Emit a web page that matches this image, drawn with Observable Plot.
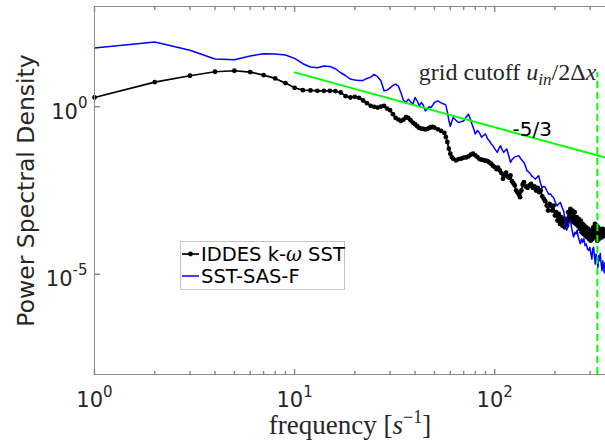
<!DOCTYPE html>
<html><head><meta charset="utf-8">
<script src="https://cdn.jsdelivr.net/npm/d3@7"></script>
<script src="https://cdn.jsdelivr.net/npm/@observablehq/plot@0.6"></script>
<style>body{margin:0;background:#fff;}</style>
</head><body><div id="chart"></div>
<script>
// ---- data (frequency in 1/s, log10 of PSD) ----
const iddesFreq = [1,2,3,4,5,6,7,8,9,10,11,12,13,14,15,16,17,18,19,20,21,22,23,24,25,26,27,28,29,30,31,32,33,34,35,36,37,38,39,40,41,42,43,44,45,46,47,48,49,50,52,54,56,57,58,59,60,61,62,64,66,68,70,72,74,76,78,80,82,84,86,88,90,92,94,96,98,100,102,104,106,108,110,112,114,116,118,120,122,124,126,128,130,132,134,136,138,140,143,146,149,152,155,158,161,164,167,170,173,176,179,182,185,188,191,194,197,200,203,206,209,212,215,218,221,224,227,230,233,236,239,242,245,248,251,254,257,260,263,266,269,272,275,278,281,284,287,290,293,296,299,302,305,308,311,314,317,320,323,326,329,332,335,338,341,344,347,350,353,356,358];
const iddesLog10PSD = [0.28,0.74,0.93,1.05,1.08,1.04,0.95,0.85,0.71,0.57,0.50,0.49,0.48,0.48,0.48,0.47,0.43,0.32,0.28,0.30,0.27,0.19,0.11,0.03,0.00,-0.02,0.01,0.03,-0.05,-0.10,-0.22,-0.33,-0.38,-0.42,-0.38,-0.31,-0.33,-0.40,-0.47,-0.52,-0.58,-0.63,-0.65,-0.66,-0.67,-0.66,-0.63,-0.61,-0.60,-0.62,-0.67,-0.72,-0.78,-0.90,-1.05,-1.25,-1.40,-1.50,-1.55,-1.60,-1.56,-1.55,-1.52,-1.51,-1.48,-1.43,-1.40,-1.45,-1.50,-1.56,-1.58,-1.59,-1.61,-1.62,-1.66,-1.70,-1.76,-1.80,-1.86,-1.82,-1.90,-1.98,-2.15,-2.05,-1.97,-2.08,-2.12,-2.05,-2.22,-2.28,-2.35,-2.50,-2.55,-2.62,-2.70,-2.50,-2.32,-2.25,-2.38,-2.42,-2.35,-2.30,-2.42,-2.38,-2.50,-2.42,-2.55,-2.50,-2.68,-2.75,-2.82,-2.95,-3.10,-2.90,-2.95,-3.10,-2.95,-3.25,-3.15,-3.40,-3.20,-3.50,-3.30,-3.55,-3.35,-3.60,-3.35,-3.55,-3.15,-3.40,-3.05,-3.40,-3.10,-3.45,-3.15,-3.50,-3.30,-3.55,-3.35,-3.65,-3.40,-3.75,-3.50,-3.80,-3.55,-3.85,-3.60,-3.90,-3.65,-3.95,-3.70,-4.00,-3.70,-3.95,-3.60,-3.85,-3.50,-3.90,-3.55,-4.00,-3.60,-3.95,-3.65,-3.90,-3.70,-3.90,-3.65,-3.85,-3.70,-3.85,-3.75];

const sasFreq = [1,2,3,4,5,6,7,8,9,10,11,12,13,14,15,16,17,18,19,20,21,22,23,24,25,26,27,28,29,30,31,32,33,34,35,36,37,38,39,40,41,42,43,44,45,46,47,48,49,50,52,54,56,57,58,59,60,62,64,66,68,70,72,74,76,77,79,80,82,84,86,88,90,92,94,96,98,100,103,105,107,109,111,113,115,118,120,122,125,128,132,135,138,140,143,145,148,151,154,157,160,163,166,169,172,176,179,182,186,190,194,197,201,205,209,213,217,221,225,229,233,236,239,243,246,248,252,255,258,262,265,268,272,275,279,283,287,291,295,299,303,306,309,312,315,318,321,325,328,331,334,337,340,344,347,350,353,356,358];
const sasLog10PSD = [1.76,1.94,1.69,1.43,1.41,1.52,1.59,1.58,1.55,1.45,1.29,1.19,1.17,1.22,1.21,1.14,1.02,0.93,0.83,0.80,0.79,0.79,0.85,0.89,0.97,0.90,0.78,0.48,0.50,0.57,0.64,0.68,0.62,0.42,0.20,0.13,0.23,0.15,0.08,0.28,0.18,0.03,0.13,0.05,-0.12,-0.06,0.00,-0.02,0.05,0.13,0.18,0.12,0.08,0.05,-0.15,-0.40,-0.58,-0.32,-0.40,-0.47,-0.44,-0.42,-0.30,-0.22,-0.40,-0.51,-0.70,-0.81,-0.71,-0.78,-0.91,-0.85,-0.81,-0.95,-1.01,-1.10,-1.16,-1.25,-1.36,-1.25,-1.16,-1.28,-1.36,-1.30,-1.26,-1.50,-1.66,-1.58,-1.51,-1.48,-1.46,-1.55,-1.62,-1.66,-1.80,-1.91,-1.95,-2.01,-2.08,-2.12,-2.16,-2.10,-2.06,-2.25,-2.41,-2.38,-2.41,-2.50,-2.61,-2.60,-2.68,-2.71,-2.85,-2.96,-2.90,-2.86,-3.00,-3.10,-3.40,-3.69,-3.55,-3.45,-3.39,-3.65,-3.80,-3.89,-3.75,-3.80,-3.69,-3.90,-4.00,-4.09,-3.95,-4.05,-3.94,-4.15,-4.10,-4.25,-4.29,-4.20,-4.40,-4.55,-4.25,-4.20,-4.45,-4.70,-4.40,-4.58,-4.80,-4.45,-4.60,-4.38,-4.65,-4.90,-4.60,-4.78,-4.95,-4.65,-5.00];

const slopeFreq = [10, 358];
const slopeLog10PSD = [1.03, -1.52];
const slopeLabel = "-5/3";
const slopeLabelFreq = 154;
const slopeLabelLog10PSD = -0.69;

const cutoffFreq = 326;
const cutoffTopLog10PSD = 1.02;
const cutoffLabel = "grid cutoff u_in/2Δx";

const seriesNames = ["IDDES k-ω SST", "SST-SAS-F"];
const xTicks = [1, 10, 100];
const xTickLabels = ["10^0", "10^1", "10^2"];
const xMinorTicks = [2,3,4,5,6,7,8,9,20,30,40,50,60,70,80,90,200,300];
const yTicks = [1e-5, 1];
const yTickLabels = ["10^-5", "10^0"];
const xLabel = "frequency [s^-1]";
const yLabel = "Power Spectral Density";

// ---- tables ----
const iddes = iddesFreq.map((f, i) => ({f, psd: 10 ** iddesLog10PSD[i]}));
const sas = sasFreq.map((f, i) => ({f, psd: 10 ** sasLog10PSD[i]}));
const slope = slopeFreq.map((f, i) => ({f, psd: 10 ** slopeLog10PSD[i]}));
const cutoffAnno = [{f: cutoffFreq, psd: 10 ** cutoffTopLog10PSD, label: cutoffLabel}];
const slopeAnno = [{f: slopeLabelFreq, psd: 10 ** slopeLabelLog10PSD, label: slopeLabel}];

const gray = "#8c8c8c";
const tickShape = {draw(ctx, l) { ctx.moveTo(0, 0); ctx.lineTo(0, -l); }};
const yMin = 1e-8, yMax = 1e3;

const svg = Plot.plot({
  width: 605, height: 445,
  marginLeft: 94, marginRight: 0, marginTop: 6, marginBottom: 71,
  x: {type: "log", domain: [1, 358]},
  y: {type: "log", domain: [yMin, yMax]},
  style: {fontFamily: "DejaVu Sans", background: "white", overflow: "visible"},
  marks: [
    Plot.line(iddes, {x: "f", y: "psd", stroke: "#000", strokeWidth: 1.7}),
    Plot.dot(iddes, {x: "f", y: "psd", r: 2.4, fill: "#000", stroke: "none"}),
    Plot.line(sas, {x: "f", y: "psd", stroke: "#0000ff", strokeWidth: 1.5}),
    Plot.line(slope, {x: "f", y: "psd", stroke: "#00ff00", strokeWidth: 2}),
    Plot.ruleX([cutoffFreq], {y1: yMin, y2: 10 ** cutoffTopLog10PSD, stroke: "#00ff00", strokeWidth: 2, strokeDasharray: "7,4"}),
    // frame
    Plot.ruleX([1], {stroke: gray}),
    Plot.ruleY([yMin], {stroke: gray}),
    Plot.ruleY([yMax], {stroke: gray}),
    // inward ticks
    Plot.vector(xTicks, {x: d => d, frameAnchor: "bottom", length: 5, rotate: 0, anchor: "start", shape: tickShape, stroke: gray}),
    Plot.vector(xMinorTicks, {x: d => d, frameAnchor: "bottom", length: 3, rotate: 0, anchor: "start", shape: tickShape, stroke: gray}),
    Plot.vector(xTicks, {x: d => d, frameAnchor: "top", length: 5, rotate: 180, anchor: "start", shape: tickShape, stroke: gray}),
    Plot.vector(xMinorTicks, {x: d => d, frameAnchor: "top", length: 3, rotate: 180, anchor: "start", shape: tickShape, stroke: gray}),
    Plot.vector(yTicks, {y: d => d, frameAnchor: "left", length: 5, rotate: 90, anchor: "start", shape: tickShape, stroke: gray}),
    // tick labels
    Plot.axisX(xTicks, {anchor: "bottom", tickSize: 0, tickPadding: 18, label: null,
      tickFormat: d => xTickLabels[xTicks.indexOf(d)], fontSize: 21, fill: "#262626", fontFamily: "DejaVu Sans"}),
    Plot.axisY(yTicks, {anchor: "left", tickSize: 0, tickPadding: 7, label: null, dy: 5,
      tickFormat: d => yTickLabels[yTicks.indexOf(d)], fontSize: 21, fill: "#262626", fontFamily: "DejaVu Sans"}),
    // axis titles
    Plot.text([yLabel], {frameAnchor: "left", text: d => d, rotate: -90, dx: -68, textAnchor: "middle", lineAnchor: "middle",
      fontSize: 23.5, fill: "#262626", fontFamily: "DejaVu Sans"}),
    Plot.text([xLabel], {frameAnchor: "bottom", text: d => d, dy: 51, textAnchor: "middle", lineAnchor: "middle",
      fontSize: 27, fill: "#262626", fontFamily: "Liberation Serif"}),
    // annotations
    Plot.text(cutoffAnno, {x: "f", y: "psd", text: "label", textAnchor: "end", dx: -1, fontSize: 24, fill: "#262626", fontFamily: "Liberation Serif"}),
    Plot.text(slopeAnno, {x: "f", y: "psd", text: "label", fontSize: 20, fill: "#000", fontFamily: "DejaVu Sans"})
  ]
});

// ---- rich text (superscripts / italics) ----
const S = d3.select(svg);
S.selectAll("text").each(function() {
  const el = d3.select(this);
  const s = this.textContent;
  let m = s.match(/^10\^(-?\d+)$/);
  if (m) {
    el.text(null);
    el.append("tspan").text("10");
    el.append("tspan").attr("dy", -10.5).attr("font-size", 15).text(m[1]);
    return;
  }
  if (s === xLabel) {
    el.text(null);
    el.append("tspan").text("frequency [");
    el.append("tspan").attr("font-style", "italic").text("s");
    el.append("tspan").attr("dy", -11).attr("font-size", 18).text("\u22121");
    el.append("tspan").attr("dy", 11).text("]");
    return;
  }
  if (s === cutoffLabel) {
    el.text(null);
    el.append("tspan").text("grid cutoff ");
    el.append("tspan").attr("font-style", "italic").text("u");
    el.append("tspan").attr("font-style", "italic").attr("dy", 5).attr("font-size", 17).text("in");
    el.append("tspan").attr("dy", -5).text("/2Δ");
    el.append("tspan").attr("font-style", "italic").text("x");
  }
});

// ---- legend ----
const lg = S.append("g").attr("font-family", "DejaVu Sans").attr("font-size", 19.5).attr("text-anchor", "start");
lg.append("rect").attr("x", 180.5).attr("y", 241.5).attr("width", 164).attr("height", 48)
  .attr("fill", "white").attr("stroke", "#c4c4c4");
const rows = [
  {name: seriesNames[0], color: "#000", dot: true, cy: 254},
  {name: seriesNames[1], color: "#0000ff", dot: false, cy: 276}
];
rows.forEach(r => {
  lg.append("line").attr("x1", 182).attr("x2", 199).attr("y1", r.cy).attr("y2", r.cy)
    .attr("stroke", r.color).attr("stroke-width", r.dot ? 1.7 : 1.5);
  if (r.dot) lg.append("circle").attr("cx", 190.5).attr("cy", r.cy).attr("r", 2.4).attr("fill", r.color);
  const t = lg.append("text").attr("x", 201).attr("y", r.cy + 7).attr("fill", "#000").attr("text-anchor", "start");
  const parts = r.name.split("ω");
  if (parts.length === 2) {
    t.append("tspan").text(parts[0]);
    t.append("tspan").attr("font-style", "italic").attr("font-family", "DejaVu Serif").text("ω");
    t.append("tspan").text(parts[1]);
  } else {
    t.text(r.name);
  }
});

document.getElementById("chart").appendChild(svg);
</script>
</body></html>
